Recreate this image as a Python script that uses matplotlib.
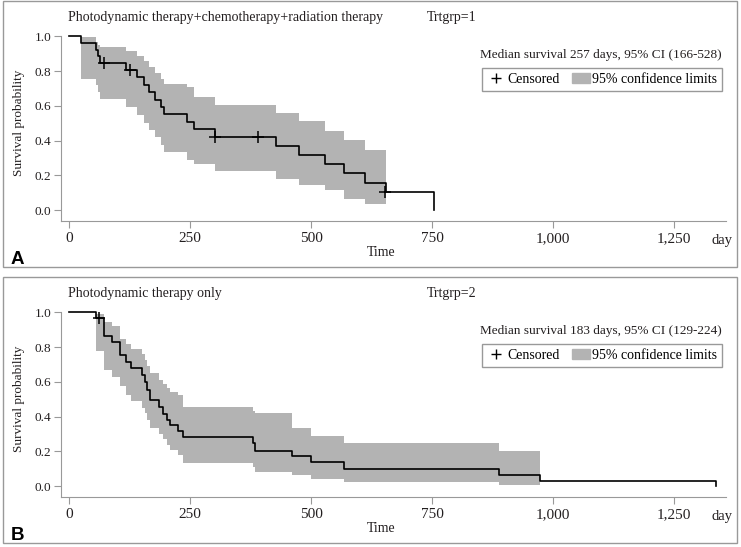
import matplotlib
matplotlib.use("Agg")
import matplotlib.pyplot as plt
from matplotlib.lines import Line2D
from matplotlib.patches import Patch, Rectangle

plt.rcParams["font.family"] = ["Liberation Serif", "DejaVu Serif"]

# --- Panel A: PDT + chemotherapy + radiation therapy (Trtgrp=1) ---
a_time = [0, 25, 56, 59, 64, 118, 140, 155, 166, 178, 191, 197, 243, 258,
          301, 427, 475, 529, 568, 611, 655, 754]
a_surv = [1.0, 0.962, 0.923, 0.885, 0.846, 0.806, 0.764, 0.721, 0.679, 0.636,
          0.594, 0.552, 0.509, 0.467, 0.424, 0.371, 0.318, 0.265, 0.212, 0.159,
          0.106, 0.0]
a_band_time = [25, 56, 59, 64, 118, 140, 155, 166, 178, 191, 197, 243, 258,
               301, 427, 475, 529, 568, 611, 655]
a_upper = [0.995, 0.967, 0.952, 0.94, 0.914, 0.885, 0.856, 0.823, 0.789, 0.756,
           0.724, 0.71, 0.65, 0.603, 0.559, 0.511, 0.457, 0.402, 0.345, 0.345]
a_lower = [0.756, 0.72, 0.68, 0.641, 0.594, 0.546, 0.504, 0.46, 0.421, 0.377,
           0.335, 0.29, 0.264, 0.226, 0.182, 0.148, 0.115, 0.067, 0.038, 0.038]
a_cens_time = [73, 125, 301, 390, 652]
a_cens_surv = [0.846, 0.806, 0.424, 0.424, 0.106]

# --- Panel B: PDT only (Trtgrp=2) ---
b_time = [0, 55, 73, 89, 105, 117, 129, 150, 157, 162, 167, 186, 195, 202,
          209, 226, 236, 381, 385, 461, 499, 567, 888, 973, 1336]
b_surv = [1.0, 0.967, 0.862, 0.828, 0.757, 0.714, 0.68, 0.64, 0.60, 0.556,
          0.498, 0.456, 0.416, 0.383, 0.35, 0.32, 0.283, 0.249, 0.205, 0.173,
          0.138, 0.100, 0.065, 0.031, 0.0]
b_band_time = [55, 73, 89, 105, 117, 129, 150, 157, 162, 167, 186, 195, 202,
               209, 226, 236, 381, 385, 461, 499, 567, 888, 973]
b_upper = [0.99, 0.944, 0.925, 0.85, 0.818, 0.79, 0.76, 0.728, 0.69, 0.651,
           0.613, 0.59, 0.565, 0.545, 0.527, 0.456, 0.435, 0.421, 0.335, 0.287,
           0.249, 0.201, 0.201]
b_lower = [0.779, 0.67, 0.63, 0.575, 0.527, 0.49, 0.45, 0.42, 0.38, 0.335,
           0.30, 0.27, 0.24, 0.21, 0.18, 0.134, 0.11, 0.082, 0.063, 0.042,
           0.023, 0.009, 0.009]
b_cens_time = [63]
b_cens_surv = [0.967]

xticks = [0, 250, 500, 750, 1000, 1250]
xtick_labels = ["0", "250", "500", "750", "1,000", "1,250"]
yticks = [0.0, 0.2, 0.4, 0.6, 0.8, 1.0]
ytick_labels = ["0.0", "0.2", "0.4", "0.6", "0.8", "1.0"]

BAND = "#b3b3b3"
GRID = "#999999"
TEXT = "#231f20"
W, H = 741, 547


def px_rect(x0, y0, x1, y1):
    """figure-fraction rect from pixel box (top-left origin)"""
    return [x0 / W, 1 - y1 / H, (x1 - x0) / W, (y1 - y0) / H]


def draw_panel(fig, top, letter, title, group, median_txt,
               t, s, bt, up, lo, ct, cs):
    # frame around the whole panel
    fig.add_artist(Rectangle((3 / W, 1 - (top + 267) / H), 734 / W, 266 / H,
                             transform=fig.transFigure, fill=False,
                             edgecolor=GRID, lw=1))
    ax = fig.add_axes(px_rect(61, top + 33, 726, top + 221))
    ax.fill_between(bt, lo, up, step="post", color=BAND, lw=0)
    ax.step(t, s, where="post", color="black", lw=1.2, clip_on=False)
    ax.plot(ct, cs, ls="none", marker="+", color="black", ms=8, mew=1.1)

    ax.set_xlim(-16.5, 1357)
    ax.set_ylim(-0.062, 1.02)
    ax.spines["left"].set_bounds(-0.062, 1.0)
    for side in ("top", "right"):
        ax.spines[side].set_visible(False)
    for side in ("left", "bottom"):
        ax.spines[side].set_color(GRID)
    ax.set_xticks(xticks, xtick_labels)
    ax.set_yticks(yticks, ytick_labels)
    ax.tick_params(direction="out", length=5, width=0.8, color=GRID,
                   labelcolor=TEXT)
    ax.tick_params(axis="x", labelsize=11, pad=3)
    ax.tick_params(axis="y", labelsize=9.5, pad=2)

    ax.set_ylabel("Survival probability", fontsize=9.5, color=TEXT)
    ax.yaxis.set_label_coords(-0.054, 0.52)
    ax.set_xlabel("Time", fontsize=10, color=TEXT)
    ax.xaxis.set_label_coords(0.481, -0.135)
    ax.text(0.994, -0.105, "day", transform=ax.transAxes, ha="center",
            va="center", fontsize=10.5, color=TEXT)

    fig.text(68 / W, 1 - (top + 17) / H, title, ha="left", va="center",
             fontsize=10, color=TEXT)
    fig.text(427 / W, 1 - (top + 17) / H, group, ha="left", va="center",
             fontsize=10, color=TEXT)
    fig.text(722 / W, 1 - (top + 55) / H, median_txt, ha="right", va="center",
             fontsize=9.5, color=TEXT)
    fig.text(11 / W, 1 - (top + 264) / H, letter, ha="left", va="baseline",
             fontsize=13.5, fontweight="bold", family="Liberation Sans",
             color="black")

    handles = [Line2D([], [], ls="none", marker="+", color="black", ms=7, mew=1),
               Patch(facecolor=BAND, edgecolor=BAND)]
    ax.legend(handles, ["Censored", "95% confidence limits"], ncol=2,
              loc="upper right", bbox_to_anchor=(0.994, 0.815),
              fontsize=10, frameon=True, fancybox=False, edgecolor=GRID,
              framealpha=1, borderpad=0.35, handlelength=1.3,
              handletextpad=0.15, columnspacing=0.9, borderaxespad=0)
    return ax


fig = plt.figure(figsize=(7.41, 5.47), dpi=100)
draw_panel(fig, 0, "A", "Photodynamic therapy+chemotherapy+radiation therapy",
           "Trtgrp=1", "Median survival 257 days, 95% CI (166-528)",
           a_time, a_surv, a_band_time, a_upper, a_lower,
           a_cens_time, a_cens_surv)
draw_panel(fig, 276, "B", "Photodynamic therapy only",
           "Trtgrp=2", "Median survival 183 days, 95% CI (129-224)",
           b_time, b_surv, b_band_time, b_upper, b_lower,
           b_cens_time, b_cens_surv)

fig.savefig("out.png", dpi=100)
plt.close(fig)
